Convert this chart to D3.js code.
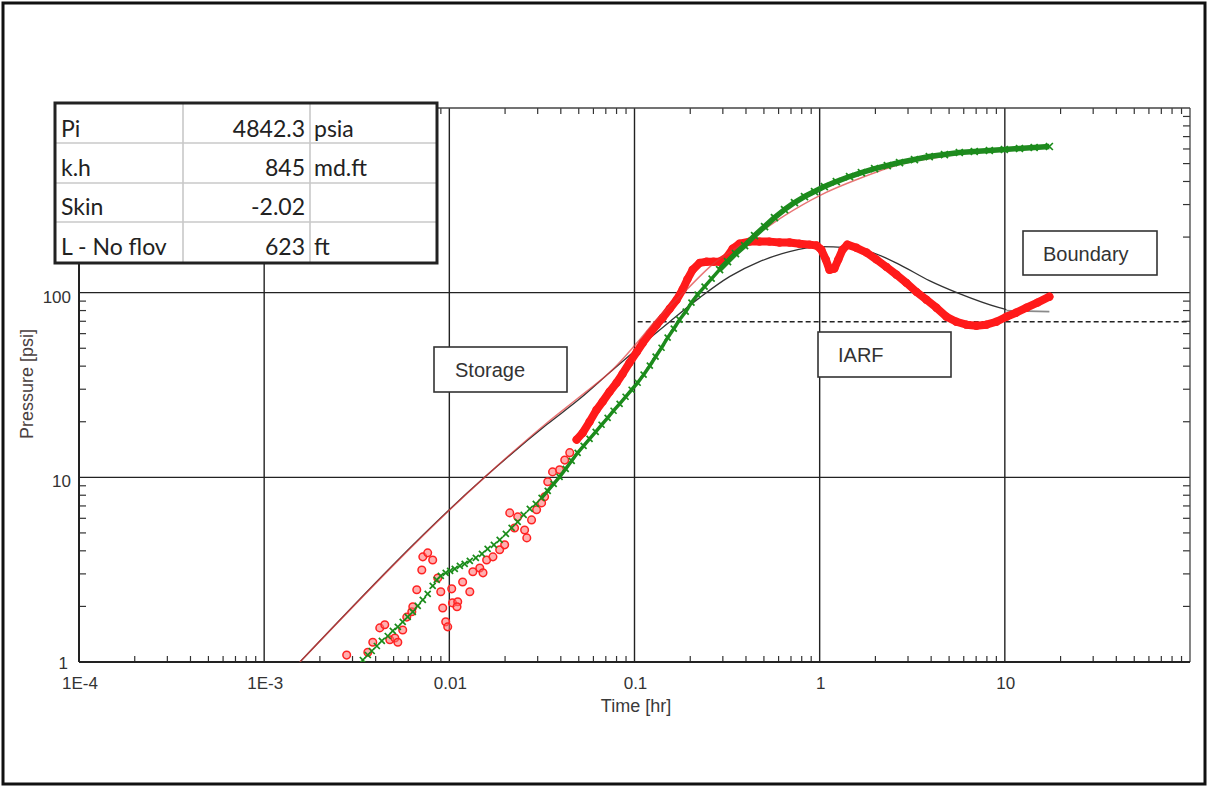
<!DOCTYPE html>
<html><head><meta charset="utf-8">
<script src="https://cdn.jsdelivr.net/npm/d3@7"></script>
<style>body{margin:0;background:#fff;} svg{display:block}</style>
</head><body><svg id="c" width="1208" height="787"></svg>
<script>
// ---------- data ----------
const xTickValues = [1e-4, 1e-3, 0.01, 0.1, 1, 10];
const xTickLabels = ["1E-4", "1E-3", "0.01", "0.1", "1", "10"];
const yTickValues = [1, 10, 100];
const yTickLabels = ["1", "10", "100"];

// measured pressure change (green crosses)
const pressureTime = [0.00341,0.00363,0.00381,0.00406,0.00432,0.00465,0.00495,0.00527,0.00560,0.00596,0.00635,0.00675,0.00719,0.00764,0.00813,0.00855,0.00899,0.00956,0.0101,0.0107,0.0114,0.0121,0.0129,0.0139,0.0150,0.0161,0.0174,0.0187,0.0202,0.0217,0.0234,0.0252,0.0272,0.0293,0.0315,0.0340,0.0366,0.0394,0.0425,0.0458,0.0493,0.0531,0.0572,0.0617,0.0664,0.0716,0.0771,0.0831,0.0895,0.0965,0.104,0.112,0.121,0.130,0.140,0.151,0.163,0.175,0.189,0.203,0.219,0.239,0.261,0.288,0.318,0.351,0.393,0.445,0.504,0.570,0.646,0.731,0.828,0.938,1.06,1.23,1.45,1.68,1.98,2.32,2.70,3.25,3.91,4.72,5.68,6.84,8.25,9.94,12.0,14.4,17.4];
const pressureValue = [1.025,1.091,1.147,1.221,1.300,1.383,1.473,1.548,1.648,1.754,1.866,2.012,2.168,2.337,2.582,2.783,2.925,3.037,3.114,3.193,3.314,3.398,3.527,3.662,3.849,4.099,4.308,4.585,4.941,5.324,5.738,6.263,6.750,7.184,7.742,8.451,9.221,10.06,11.12,12.29,13.58,14.82,16.17,17.64,19.26,21.01,22.94,25.02,27.31,29.80,32.52,35.95,40.22,44.99,50.33,57.03,63.80,71.38,78.88,88.26,97.54,107.8,119.1,133.2,147.2,162.7,179.8,203.7,227.9,255.0,281.8,307.5,331.5,352.8,375.4,399.6,425.4,447.2,470.0,488.0,506.6,526.0,546.0,559.8,574.0,581.2,588.5,595.9,603.4,611.0,618.6];

// derivative, early scattered points (red circles)
const derivScatterTime = [0.00279,0.00363,0.00386,0.00421,0.00448,0.00477,0.00508,0.00527,0.00560,0.00589,0.00627,0.00635,0.00667,0.00710,0.00719,0.00764,0.00813,0.00866,0.00899,0.00921,0.00956,0.00980,0.0103,0.0104,0.0111,0.0110,0.0118,0.0129,0.0134,0.0146,0.0152,0.0159,0.0172,0.0187,0.0199,0.0212,0.0225,0.0234,0.0255,0.0262,0.0278,0.0296,0.0315,0.0327,0.0340,0.0361,0.0394,0.0420,0.0447];
const derivScatterValue = [1.09,1.13,1.28,1.53,1.59,1.32,1.35,1.28,1.49,1.75,1.87,1.99,2.46,3.15,3.71,3.90,3.57,2.85,2.40,1.96,1.65,1.55,2.49,2.09,2.12,1.99,2.71,2.40,3.08,3.23,3.04,3.57,3.71,4.05,4.31,6.42,5.32,6.11,5.19,4.70,5.88,6.67,7.27,7.84,9.46,10.7,11.0,12.4,13.6];

// derivative, dense part (thick red band)
const derivTime = [0.0487,0.0525,0.0572,0.0624,0.0673,0.0734,0.0801,0.0863,0.0941,0.103,0.111,0.121,0.132,0.142,0.155,0.169,0.182,0.193,0.206,0.225,0.245,0.267,0.288,0.314,0.339,0.369,0.418,0.473,0.536,0.607,0.687,0.778,0.881,0.961,1.02,1.08,1.13,1.20,1.26,1.33,1.41,1.58,1.79,2.03,2.29,2.60,2.94,3.33,3.77,4.27,4.84,5.47,6.20,7.02,7.95,9.00,10.2,11.5,13.1,15.0,17.4];
const derivValue = [16.0,17.4,20.0,23.2,25.7,29.1,32.5,36.4,41.8,47.9,53.6,60.0,67.1,73.2,81.9,91.6,104,118,133,145,147,147,147,155,173,184,189,189,189,187,187,184,182,180,171,151,133,135,151,171,182,175,165,151,138,125,113,101,91.6,82.9,74.1,69.6,67.1,66.2,67.1,69.6,74.1,77.9,82.9,88.3,95.1];

// model pressure (thin red line)
const modelPressTime = [0.00156,0.0155,0.0336,0.0506,0.0762,0.1066,0.1284,0.182,0.271,0.418,0.646,1.0,1.64,2.70,5.02,10.2,17.4];
const modelPressValue = [1.0,10.0,19.7,27.3,38.3,55.6,69.6,98.8,145.4,193.8,261.4,335.6,414.8,494,552.8,603,618];

// model derivative (thin black line) and its grey tail
const modelDerivTime = [0.00156,0.0155,0.0336,0.0506,0.0734,0.1066,0.155,0.225,0.326,0.473,0.687,1.0,1.40,1.93,2.70,3.91,5.68,9.33,10.2];
const modelDerivValue = [1.0,10.0,19.3,26.6,36.9,51.0,69.6,94.0,122.1,147.2,166.8,177.5,175.4,164.8,141.8,116.2,98.8,82.9,80.9];
const tailTime = [10.2, 17.4];
const tailValue = [79.9, 78.9];

// IARF stabilisation level (dashed)
const iarfStart = 0.104;
const iarfLevel = 69.6;

// results table
const paramNames = ["Pi", "k.h", "Skin", "L - No flov"];
const paramValues = ["4842.3", "845", "-2.02", "623"];
const paramUnits = ["psia", "md.ft", "", "ft"];

const annotationLabels = ["Storage", "IARF", "Boundary"];

// ---------- drawing ----------
const svg = d3.select("#c");
const L = 79, R = 1190, T = 108, B = 662;
const x = d3.scaleLog().domain([1e-4, 100]).range([L, R]);
const y = d3.scaleLog().domain([1, 1000]).range([B, T]);
const FONT = "'Liberation Sans', Arial, sans-serif";

svg.append("rect").attr("width", 1208).attr("height", 787).attr("fill", "#fff");

svg.append("defs").append("clipPath").attr("id", "plotclip")
  .append("rect").attr("x", L).attr("y", T).attr("width", R - L).attr("height", B - T);

// grid lines
const g = svg.append("g");
xTickValues.filter(v => v > 1e-4).forEach(v => {
  g.append("line").attr("x1", x(v)).attr("x2", x(v)).attr("y1", T).attr("y2", B)
    .attr("stroke", "#222").attr("stroke-width", 1.4);
});
yTickValues.filter(v => v > 1).forEach(v => {
  g.append("line").attr("x1", L).attr("x2", R).attr("y1", y(v)).attr("y2", y(v))
    .attr("stroke", "#222").attr("stroke-width", 1.4);
});

// minor ticks (inside)
const minorX = [];
for (let e = -4; e < 2; e++) for (let m = 2; m <= 9; m++) minorX.push(m * Math.pow(10, e));
const minorY = [];
for (let e = 0; e < 3; e++) for (let m = 2; m <= 9; m++) minorY.push(m * Math.pow(10, e));
minorX.forEach(v => {
  g.append("line").attr("x1", x(v)).attr("x2", x(v)).attr("y1", B).attr("y2", B - 6).attr("stroke", "#333").attr("stroke-width", 1.2);
  g.append("line").attr("x1", x(v)).attr("x2", x(v)).attr("y1", T).attr("y2", T + 6).attr("stroke", "#333").attr("stroke-width", 1.2);
});
minorY.forEach(v => {
  g.append("line").attr("x1", L).attr("x2", L + 7).attr("y1", y(v)).attr("y2", y(v)).attr("stroke", "#333").attr("stroke-width", 1.2);
  g.append("line").attr("x1", R).attr("x2", R - 7).attr("y1", y(v)).attr("y2", y(v)).attr("stroke", "#333").attr("stroke-width", 1.2);
});

// frame
g.append("line").attr("x1", L).attr("x2", R).attr("y1", T).attr("y2", T).attr("stroke", "#444").attr("stroke-width", 1.3);
g.append("line").attr("x1", R).attr("x2", R).attr("y1", T).attr("y2", B).attr("stroke", "#444").attr("stroke-width", 1.3);
g.append("line").attr("x1", L).attr("x2", R).attr("y1", B).attr("y2", B).attr("stroke", "#222").attr("stroke-width", 2);
g.append("line").attr("x1", L).attr("x2", L).attr("y1", T).attr("y2", B).attr("stroke", "#222").attr("stroke-width", 2);

// dashed IARF line
g.append("line").attr("x1", x(iarfStart)).attr("x2", R).attr("y1", y(iarfLevel)).attr("y2", y(iarfLevel))
  .attr("stroke", "#222").attr("stroke-width", 1.4).attr("stroke-dasharray", "5,3");

// tick labels
xTickValues.forEach((v, i) => {
  svg.append("text").attr("x", x(v) + 1).attr("y", 689).attr("text-anchor", "middle")
    .attr("font-family", FONT).attr("font-size", 17).attr("fill", "#333").text(xTickLabels[i]);
});
yTickValues.forEach((v, i) => {
  svg.append("text").attr("x", v === 1 ? 68 : 71).attr("y", v === 1 ? y(v) + 7 : y(v) + 10)
    .attr("text-anchor", "end")
    .attr("font-family", FONT).attr("font-size", 17).attr("fill", "#333").text(yTickLabels[i]);
});
svg.append("text").attr("x", 636).attr("y", 712).attr("text-anchor", "middle")
  .attr("font-family", FONT).attr("font-size", 18).attr("fill", "#3a3a3a").text("Time [hr]");
svg.append("text").attr("transform", "translate(33,384) rotate(-90)").attr("text-anchor", "middle")
  .attr("font-family", FONT).attr("font-size", 18).attr("fill", "#4a4040").text("Pressure [psi]");

// series
const plot = svg.append("g").attr("clip-path", "url(#plotclip)");
const line = d3.line().x(d => x(d[0])).y(d => y(d[1])).curve(d3.curveMonotoneX);
const straight = d3.line().x(d => x(d[0])).y(d => y(d[1]));
const zip = (a, b) => a.map((t, i) => [t, b[i]]);

plot.append("path").datum(zip(modelDerivTime, modelDerivValue)).attr("d", line)
  .attr("fill", "none").attr("stroke", "#333").attr("stroke-width", 1.3);
plot.append("path").datum(zip(tailTime, tailValue)).attr("d", line)
  .attr("fill", "none").attr("stroke", "#8a8a8a").attr("stroke-width", 1.6);

// derivative scatter
plot.append("g").selectAll("circle").data(zip(derivScatterTime, derivScatterValue)).join("circle")
  .attr("cx", d => x(d[0])).attr("cy", d => y(d[1])).attr("r", 3.8)
  .attr("fill", "rgba(255,110,110,0.55)").attr("stroke", "#f22").attr("stroke-width", 1.5);
// derivative dense band
const dense = zip(derivTime, derivValue);
plot.append("path").datum(dense).attr("d", straight)
  .attr("fill", "none").attr("stroke", "#ff1a1a").attr("stroke-width", 8)
  .attr("stroke-linejoin", "round").attr("stroke-linecap", "round");
plot.append("g").selectAll("circle").data(dense).join("circle")
  .attr("cx", d => x(d[0])).attr("cy", d => y(d[1])).attr("r", 4.2)
  .attr("fill", "#ff1a1a").attr("stroke", "none");

// model pressure (thin red)
plot.append("path").datum(zip(modelPressTime, modelPressValue)).attr("d", line)
  .attr("fill", "none").attr("stroke", "#e03a3a").attr("stroke-opacity", 0.7).attr("stroke-width", 1.5);

// pressure data (green crosses)
const press = zip(pressureTime, pressureValue);
plot.append("path").datum(press.filter(d => d[0] > 0.03 && d[0] <= 0.3)).attr("d", straight)
  .attr("fill", "none").attr("stroke", "#1f8a1f").attr("stroke-width", 3.5).attr("stroke-linejoin", "round");
plot.append("path").datum(press.filter(d => d[0] >= 0.28)).attr("d", straight)
  .attr("fill", "none").attr("stroke", "#1f8a1f").attr("stroke-width", 5.5).attr("stroke-linejoin", "round");
plot.append("g").selectAll("path").data(press).join("path")
  .attr("transform", d => `translate(${x(d[0])},${y(d[1])})`)
  .attr("d", d => d[0] >= 0.28 ? "M-3.5,-3.5L3.5,3.5M-3.5,3.5L3.5,-3.5" : "M-3,-3L3,3M-3,3L3,-3")
  .attr("stroke", "#1a8c1a").attr("stroke-width", 1.7).attr("fill", "none");

// annotation boxes
const boxes = [[434, 347, 133, 45, 455], [818, 332, 133, 45, 838], [1023, 231, 134, 44, 1043]];
annotationLabels.forEach((lab, i) => {
  const [bx, by, bw, bh, tx] = boxes[i];
  svg.append("rect").attr("x", bx).attr("y", by).attr("width", bw).attr("height", bh)
    .attr("fill", "#fff").attr("stroke", "#333").attr("stroke-width", 1.6);
  svg.append("text").attr("x", tx).attr("y", by + bh / 2 + 7.5)
    .attr("font-family", FONT).attr("font-size", 20).attr("fill", "#333").text(lab);
});

// results table
const tb = svg.append("g");
const tX = 55, tY = 103, tW = 382, tH = 160;
tb.append("rect").attr("x", tX).attr("y", tY).attr("width", tW).attr("height", tH).attr("fill", "#fff");
[183, 310].forEach(cx => tb.append("line").attr("x1", cx).attr("x2", cx).attr("y1", tY).attr("y2", tY + tH)
  .attr("stroke", "#c8c8c8").attr("stroke-width", 1.6));
[143, 183, 222].forEach(ry => tb.append("line").attr("x1", tX).attr("x2", tX + tW).attr("y1", ry).attr("y2", ry)
  .attr("stroke", "#c8c8c8").attr("stroke-width", 1.6));
tb.append("rect").attr("x", tX).attr("y", tY).attr("width", tW).attr("height", tH)
  .attr("fill", "none").attr("stroke", "#222").attr("stroke-width", 3);
const base = [137, 176, 215, 255];
paramNames.forEach((n, i) => {
  tb.append("text").attr("x", 61).attr("y", base[i]).attr("font-family", "Lato, sans-serif")
    .attr("font-size", 23).attr("fill", "#222").text(n);
  tb.append("text").attr("x", 305).attr("y", base[i]).attr("text-anchor", "end").attr("font-family", "Lato, sans-serif")
    .attr("font-size", 23).attr("fill", "#222").text(paramValues[i]);
  if (paramUnits[i]) tb.append("text").attr("x", 314).attr("y", base[i]).attr("font-family", "Lato, sans-serif")
    .attr("font-size", 23).attr("fill", "#222").text(paramUnits[i]);
});

// outer border
svg.append("rect").attr("x", 3).attr("y", 3).attr("width", 1202).attr("height", 781)
  .attr("fill", "none").attr("stroke", "#111").attr("stroke-width", 3);
</script></body></html>
